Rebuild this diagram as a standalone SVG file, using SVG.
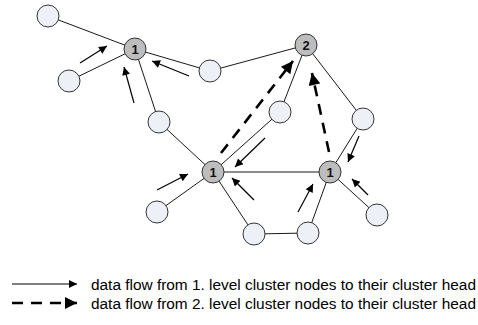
<svg xmlns="http://www.w3.org/2000/svg" width="478" height="325" viewBox="0 0 478 325">
<defs>
<style>
.e{stroke:#1a1a1a;stroke-width:1;fill:none}
.g{stroke:#666;stroke-width:1.3;fill:none}
.a{stroke:#000;stroke-width:1.2;fill:none;marker-end:url(#ah)}
.d{stroke:#000;stroke-width:2.6;stroke-dasharray:11 8;fill:none;marker-end:url(#dh)}
.n{fill:#edf0f6;stroke:#333;stroke-width:1}
.h{fill:#bdbdbd;stroke:#333;stroke-width:1}
.t{font-family:"Liberation Sans",Arial,sans-serif;font-weight:bold;font-size:13px;text-anchor:middle;fill:#111}
.l{font-family:"Liberation Sans",Arial,sans-serif;font-size:15.4px;fill:#000}
</style>
<marker id="ah" viewBox="0 0 10 10" refX="10" refY="5" markerWidth="10" markerHeight="8" markerUnits="userSpaceOnUse" orient="auto"><path d="M0,0 L10,5 L0,10 Z" fill="#000"/></marker>
<marker id="dh" viewBox="0 0 10 10" refX="10" refY="5" markerWidth="14" markerHeight="12" markerUnits="userSpaceOnUse" orient="auto"><path d="M0,0 L10,5 L0,10 Z" fill="#000"/></marker>
</defs>
<g id="connectors">
<line class="e" x1="48" y1="16" x2="135" y2="49"/>
<line class="e" x1="69" y1="81" x2="135" y2="49"/>
<line class="e" x1="135" y1="49" x2="210" y2="71"/>
<line class="e" x1="135" y1="49" x2="159" y2="122"/>
<line class="e" x1="210" y1="71" x2="306" y2="45"/>
<line class="e" x1="159" y1="122" x2="213" y2="172"/>
<line class="e" x1="213" y1="172" x2="280" y2="112"/>
<line class="e" x1="280" y1="112" x2="306" y2="45"/>
<line class="e" x1="306" y1="45" x2="363" y2="119"/>
<line class="e" x1="363" y1="119" x2="330" y2="172"/>
<line class="g" x1="213" y1="172" x2="330" y2="172"/>
<line class="e" x1="213" y1="172" x2="157" y2="212"/>
<line class="e" x1="213" y1="172" x2="254" y2="234"/>
<line class="e" x1="254" y1="234" x2="308" y2="233"/>
<line class="e" x1="308" y1="233" x2="330" y2="172"/>
<line class="e" x1="330" y1="172" x2="377" y2="215"/>
<line class="a" x1="80" y1="63" x2="107" y2="46"/>
<line class="a" x1="134" y1="103" x2="124" y2="67"/>
<line class="a" x1="189" y1="76" x2="152" y2="61"/>
<line class="a" x1="265" y1="138" x2="235" y2="167"/>
<line class="a" x1="157" y1="190" x2="188" y2="174"/>
<line class="a" x1="254" y1="200" x2="232" y2="178"/>
<line class="a" x1="298" y1="212" x2="313" y2="184"/>
<line class="a" x1="359" y1="136" x2="348" y2="162"/>
<line class="a" x1="368" y1="195" x2="352" y2="179"/>
<line class="d" x1="221" y1="153" x2="293" y2="61"/>
<line class="d" x1="329" y1="152" x2="312" y2="73"/>
<line class="a" x1="12" y1="284" x2="77" y2="284"/>
<line class="d" x1="12" y1="303" x2="77" y2="303"/>
</g>
<g id="n1"><circle class="n" cx="48" cy="16" r="11"/></g>
<g id="n2"><circle class="n" cx="69" cy="81" r="11"/></g>
<g id="n3"><circle class="n" cx="210" cy="71" r="11"/></g>
<g id="n4"><circle class="n" cx="159" cy="122" r="11"/></g>
<g id="n5"><circle class="n" cx="280" cy="112" r="11"/></g>
<g id="n6"><circle class="n" cx="363" cy="119" r="11"/></g>
<g id="n7"><circle class="n" cx="157" cy="212" r="11"/></g>
<g id="n8"><circle class="n" cx="254" cy="234" r="11"/></g>
<g id="n9"><circle class="n" cx="308" cy="233" r="11"/></g>
<g id="n10"><circle class="n" cx="377" cy="215" r="11"/></g>
<g id="h1"><circle class="h" cx="135" cy="49" r="11"/><text class="t" x="135" y="54">1</text></g>
<g id="h2"><circle class="h" cx="306" cy="45" r="11"/><text class="t" x="306" y="50">2</text></g>
<g id="h3"><circle class="h" cx="213" cy="172" r="11"/><text class="t" x="213" y="177">1</text></g>
<g id="h4"><circle class="h" cx="330" cy="172" r="11"/><text class="t" x="330" y="177">1</text></g>
<g id="legend">
<text class="l" x="91" y="290" textLength="385" lengthAdjust="spacingAndGlyphs">data flow from 1. level cluster nodes to their cluster head</text>
<text class="l" x="91" y="309" textLength="385" lengthAdjust="spacingAndGlyphs">data flow from 2. level cluster nodes to their cluster head</text>
</g>
</svg>
